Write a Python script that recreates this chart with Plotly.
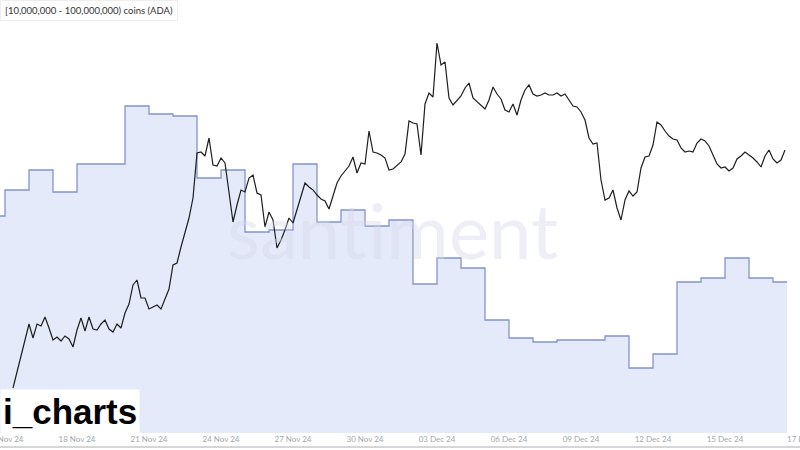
import pandas as pd
import plotly.graph_objects as go

# ---- data ----
# ADA price, 4-hourly from 2024-11-15 08:00
price_start = "2024-11-15 08:00"
price = [
    0.53, 0.57, 0.61, 0.655, 0.69, 0.655, 0.69, 0.685, 0.7075, 0.68,
    0.65, 0.6575, 0.6475, 0.66, 0.6525, 0.6325, 0.675, 0.705, 0.6725, 0.7075,
    0.6775, 0.675, 0.69, 0.70, 0.6775, 0.67, 0.69, 0.68, 0.7175, 0.74,
    0.7875, 0.80, 0.755, 0.755, 0.7275, 0.7325, 0.7375, 0.7275, 0.7525, 0.7775,
    0.8375, 0.8425, 0.8825, 0.9175, 0.955, 1.005, 1.1175, 1.12, 1.11, 1.155,
    1.0875, 1.085, 1.105, 1.0925, 1.02, 0.945, 0.9875, 1.025, 1.02, 1.055,
    1.0625, 1.0175, 1.0125, 0.9325, 0.97, 0.95, 0.88, 0.90, 0.925, 0.955,
    0.9425, 0.975, 1.0075, 1.0425, 1.0325, 1.025, 1.0125, 1.0025, 0.9975, 0.9775,
    1.01, 1.0425, 1.06, 1.0725, 1.085, 1.1075, 1.0675, 1.0925, 1.09, 1.1725,
    1.12, 1.1175, 1.1125, 1.105, 1.075, 1.0775, 1.0875, 1.095, 1.115, 1.1975,
    1.1925, 1.19, 1.1125, 1.24, 1.2675, 1.2575, 1.3925, 1.3375, 1.345, 1.255,
    1.2375, 1.2475, 1.26, 1.28, 1.2925, 1.255, 1.245, 1.2375, 1.2275, 1.25,
    1.2825, 1.265, 1.2525, 1.225, 1.22, 1.24, 1.2125, 1.25, 1.275, 1.2875,
    1.265, 1.26, 1.2625, 1.2675, 1.2625, 1.2625, 1.2675, 1.26, 1.265, 1.25,
    1.235, 1.2325, 1.22, 1.20, 1.155, 1.14, 1.1425, 1.05, 1.00, 1.005,
    1.025, 0.98, 0.95, 1.00, 1.0225, 1.01, 1.02, 1.08, 1.1075, 1.11,
    1.1375, 1.195, 1.1875, 1.1725, 1.16, 1.1525, 1.15, 1.13, 1.12, 1.1225,
    1.12, 1.1425, 1.1525, 1.1475, 1.135, 1.1125, 1.09, 1.08, 1.0825, 1.0725,
    1.08, 1.1025, 1.11, 1.12, 1.1125, 1.105, 1.095, 1.0825, 1.11, 1.125,
    1.1025, 1.0925, 1.10, 1.125,
]

# Holders with [10M - 100M) ADA, daily
holder_dates = [
    "2024-11-14", "2024-11-15", "2024-11-16", "2024-11-17", "2024-11-18",
    "2024-11-19", "2024-11-20", "2024-11-21", "2024-11-22", "2024-11-23",
    "2024-11-24", "2024-11-25", "2024-11-26", "2024-11-27", "2024-11-28",
    "2024-11-29", "2024-11-30", "2024-12-01", "2024-12-02", "2024-12-03",
    "2024-12-04", "2024-12-05", "2024-12-06", "2024-12-07", "2024-12-08",
    "2024-12-09", "2024-12-10", "2024-12-11", "2024-12-12", "2024-12-13",
    "2024-12-14", "2024-12-15", "2024-12-16", "2024-12-17", "2024-12-17 14:00",
]
holders = [
    592, 605, 615, 604, 618, 618, 647, 643, 642, 611,
    615, 584, 585, 618, 589, 595, 587, 590, 558, 571,
    566, 540, 531, 529, 530, 530, 532, 516, 523, 559,
    561, 571, 561, 559, 559,
]

tick_dates = ["2024-11-15", "2024-11-18", "2024-11-21", "2024-11-24", "2024-11-27",
              "2024-11-30", "2024-12-03", "2024-12-06", "2024-12-09", "2024-12-12",
              "2024-12-15"]
last_tick_label = "17 Dec 24"
legend_label = "[10,000,000 - 100,000,000) coins (ADA)"

price_dates = pd.date_range(price_start, periods=len(price), freq="4h")

fig = go.Figure()
fig.add_trace(go.Scatter(
    x=holder_dates, y=holders, mode="lines", line_shape="hv",
    line=dict(color="#8394cc", width=1.3),
    fill="tozeroy", fillcolor="rgba(224,230,250,0.85)",
    yaxis="y", hoverinfo="skip", showlegend=False,
))
fig.add_trace(go.Scatter(
    x=price_dates, y=price, mode="lines",
    line=dict(color="#1e1e1e", width=1.2),
    yaxis="y2", hoverinfo="skip", showlegend=False,
))

fig.update_layout(
    width=800, height=450,
    margin=dict(l=0, r=0, t=0, b=17),
    paper_bgcolor="white", plot_bgcolor="white",
    xaxis=dict(
        range=["2024-11-14 19:00", "2024-12-18 03:00"],
        tickvals=tick_dates, tickformat="%d %b %y",
        showgrid=False, zeroline=False, showline=False, ticks="",
        tickfont=dict(family="Lato", size=8, color="#a3a7ad"),
        ticklabeloverflow="allow", automargin=False,
    ),
    yaxis=dict(range=[483.5, 700], visible=False),
    yaxis2=dict(range=[0.4175, 1.5], overlaying="y", visible=False),
)

# watermark
fig.add_annotation(
    text="santiment", xref="paper", yref="paper", x=0.49, y=0.47,
    showarrow=False, font=dict(family="Lato", size=76, color="rgba(212,216,232,0.4)"),
    xanchor="center", yanchor="middle",
)

# legend label box
fig.add_annotation(
    text=legend_label, xref="paper", yref="paper", x=0.0, y=1.0,
    xanchor="left", yanchor="top", showarrow=False,
    font=dict(family="Lato", size=9.5, color="#333333"),
    bgcolor="white", bordercolor="#eeeeee", borderwidth=1, borderpad=4,
)
fig.add_shape(type="circle", xref="paper", yref="paper",
              x0=165 / 800, x1=171 / 800, y0=1 - 11 / 433, y1=1 - 5 / 433,
              fillcolor="#9a9ab8", line=dict(color="#c8c8de", width=1))

# last date label (cut at the right edge)
fig.add_annotation(
    text=last_tick_label, xref="paper", yref="paper", x=785 / 800, y=-6 / 433,
    xanchor="left", yanchor="middle", showarrow=False,
    font=dict(family="Lato", size=8, color="#a3a7ad"),
)

# i_charts badge
fig.add_annotation(
    text="i_charts", xref="paper", yref="paper", x=0.0, y=(433 - 389) / 433,
    xanchor="left", yanchor="top", showarrow=False,
    font=dict(family="Liberation Sans", size=35, color="black", weight="bold"),
    bgcolor="white", borderpad=2,
)

# bottom frame line
fig.add_shape(type="line", xref="paper", yref="paper", x0=0, x1=1,
              y0=-14 / 433, y1=-14 / 433, line=dict(color="#d6d6d6", width=2))

fig.write_html("out.html", config={"displayModeBar": False},
               post_script="document.body.style.margin='0';")
